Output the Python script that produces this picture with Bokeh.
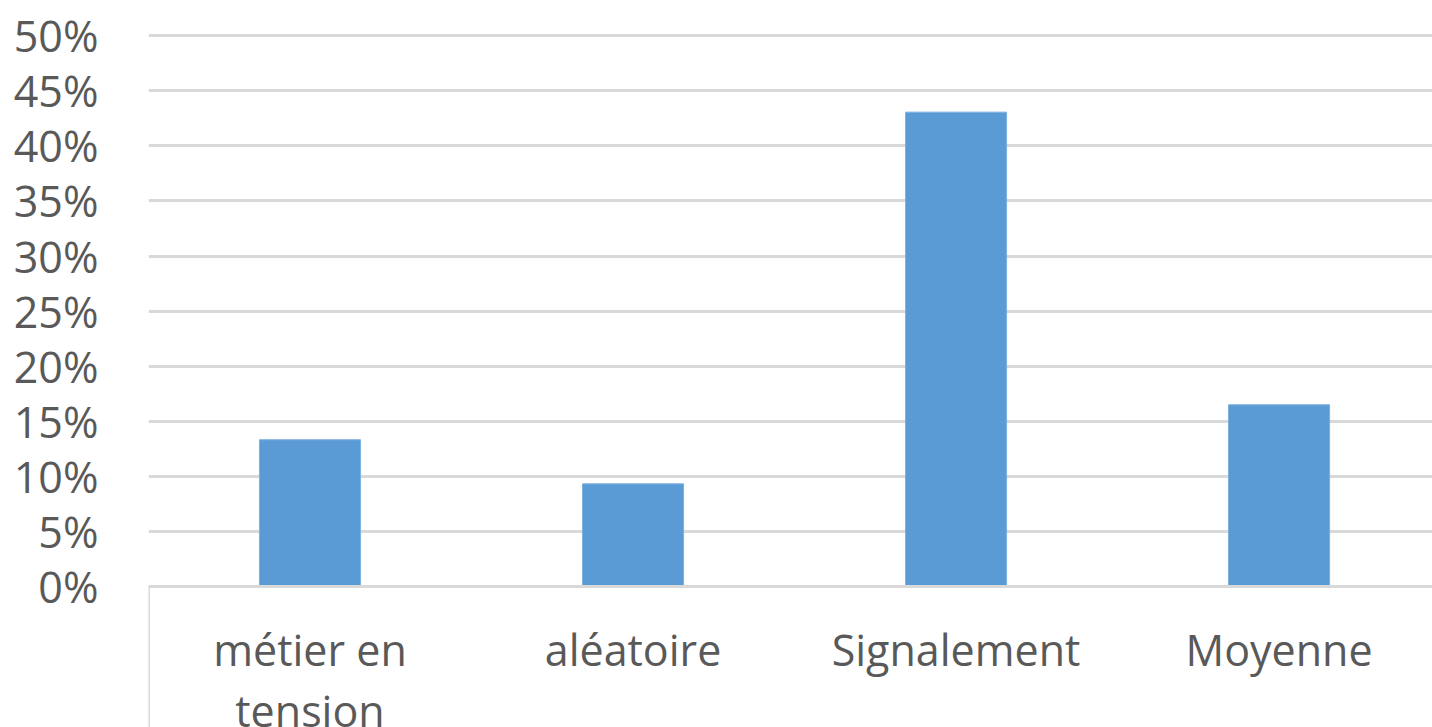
from bokeh.plotting import figure
from bokeh.models import ColumnDataSource, FixedTicker, NumeralTickFormatter, Range1d
from bokeh.embed import file_html
from bokeh.resources import INLINE

categories = ["métier en\ntension", "aléatoire", "Signalement", "Moyenne"]
values = [0.1335, 0.0935, 0.4305, 0.1652]
y_ticks = [0.0, 0.05, 0.10, 0.15, 0.20, 0.25, 0.30, 0.35, 0.40, 0.45, 0.50]

positions = list(range(1, len(categories) + 1))
src = ColumnDataSource(dict(x=positions, top=values))

# frame spans from just above 50% down to the window bottom; 0% sits at ~586px
Y_BOTTOM = -0.1274
Y_TOP = 0.5027

p = figure(width=1432, height=727, output_backend="svg", toolbar_location=None,
           x_range=Range1d(0.5, 4.475), y_range=Range1d(Y_BOTTOM, Y_TOP),
           min_border_left=148, min_border_right=0, min_border_top=32, min_border_bottom=0)
p.outline_line_color = None
p.background_fill_color = "white"
p.border_fill_color = "white"

p.vbar(x="x", top="top", bottom=0, width=0.313, source=src,
       fill_color="#5B9BD5", line_color="#7FB0DE", line_width=1)

GRID = "#d9d9d9"
TXT = "#595959"
FONT = "Open Sans"
FS = "43px"

p.xgrid.visible = False
p.ygrid.grid_line_color = GRID
p.ygrid.grid_line_width = 3
p.ygrid.ticker = FixedTicker(ticks=y_ticks)

ya = p.yaxis[0]
ya.ticker = FixedTicker(ticks=y_ticks)
ya.formatter = NumeralTickFormatter(format="0%")
ya.axis_line_color = None
ya.major_tick_line_color = None
ya.minor_tick_line_color = None
ya.major_label_standoff = 44
ya.major_label_text_font = FONT
ya.major_label_text_font_size = FS
ya.major_label_text_color = TXT

xa = p.xaxis[0]
xa.fixed_location = 0
xa.ticker = FixedTicker(ticks=positions, minor_ticks=[0.5])
xa.major_label_overrides = {pos: lab for pos, lab in zip(positions, categories)}
xa.axis_line_color = GRID
xa.axis_line_width = 3
xa.major_tick_line_color = None
xa.major_tick_out = 0
xa.major_tick_in = 0
xa.minor_tick_line_color = GRID
xa.minor_tick_line_width = 3
xa.minor_tick_out = 145
xa.minor_tick_in = 0
xa.major_label_standoff = -112
xa.major_label_text_font = FONT
xa.major_label_text_font_size = FS
xa.major_label_text_color = TXT
xa.major_label_text_line_height = 1.04

open("out.html", "w").write(file_html(p, INLINE))
